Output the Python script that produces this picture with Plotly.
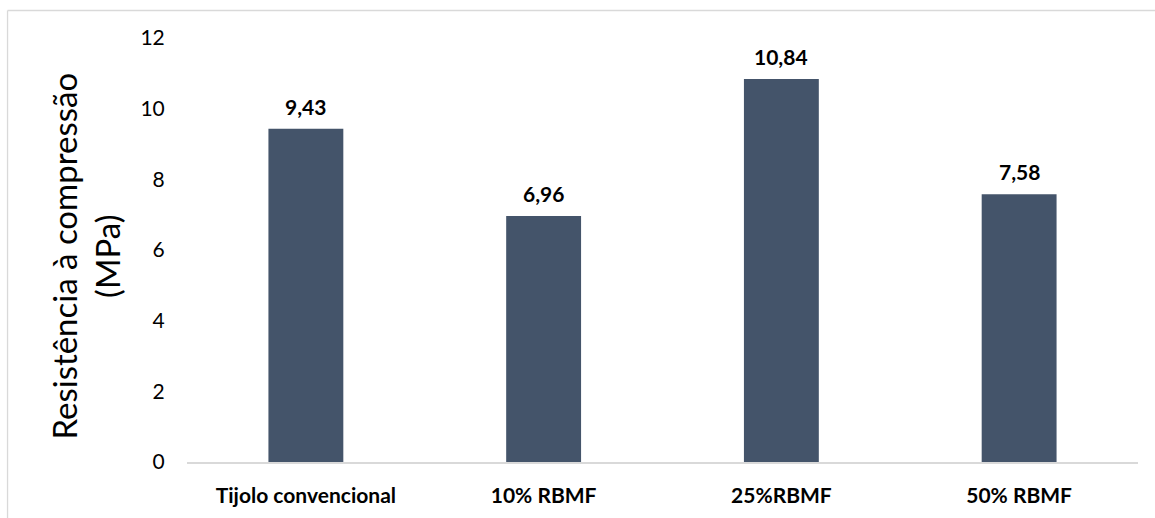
import plotly.graph_objects as go

# Compressive strength of bricks by RBMF content
categories = ["Tijolo convencional", "10% RBMF", "25%RBMF", "50% RBMF"]
strength_mpa = [9.43, 6.96, 10.84, 7.58]
y_ticks = [0, 2, 4, 6, 8, 10, 12]

BAR_COLOR = "#44546A"
FONT = "Lato"

fig = go.Figure()
fig.add_trace(go.Bar(
    x=categories,
    y=strength_mpa,
    marker=dict(color=BAR_COLOR, line=dict(width=0)),
    width=0.315,
    hoverinfo="x+y",
))

# value labels above each bar, decimal comma
for cat, val in zip(categories, strength_mpa):
    fig.add_annotation(
        x=cat, y=val, xref="x", yref="y",
        text=f"<b>{val:.2f}</b>".replace(".", ","),
        showarrow=False, yanchor="bottom", yshift=8,
        font=dict(family=FONT, size=21, color="#000000"),
    )

# rotated axis title
fig.add_annotation(
    x=-0.107, y=0.485, xref="paper", yref="paper",
    text="Resistência à compressão<br>(MPa)",
    textangle=-90, showarrow=False,
    font=dict(family=FONT, size=33, color="#000000"),
    xanchor="center", yanchor="middle",
)

# outer chart frame
fig.add_shape(type="line", xref="paper", yref="paper",
              x0=-0.1887, x1=1.1, y0=1.0649, y1=1.0649,
              line=dict(color="#D9D9D9", width=1.3))
fig.add_shape(type="line", xref="paper", yref="paper",
              x0=-0.1887, x1=-0.1887, y0=1.0649, y1=-0.2,
              line=dict(color="#D9D9D9", width=1.3))

fig.update_layout(
    width=1155, height=518,
    margin=dict(l=187, r=17, t=38, b=56),
    plot_bgcolor="white", paper_bgcolor="white",
    showlegend=False,
    font=dict(family=FONT, color="#000000"),
    xaxis=dict(
        showline=True, linecolor="#D9D9D9", linewidth=1.5,
        showgrid=False, zeroline=False,
        ticks="outside", ticklen=14, tickcolor="rgba(0,0,0,0)",
        tickfont=dict(family=FONT, size=21, color="#000000", weight="bold"),
    ),
    yaxis=dict(
        range=[0, 12], tickvals=y_ticks,
        showline=False, showgrid=False, zeroline=False,
        ticks="outside", ticklen=17, tickcolor="rgba(0,0,0,0)",
        tickfont=dict(family=FONT, size=21, color="#000000"),
    ),
)

fig.write_html("out.html")
